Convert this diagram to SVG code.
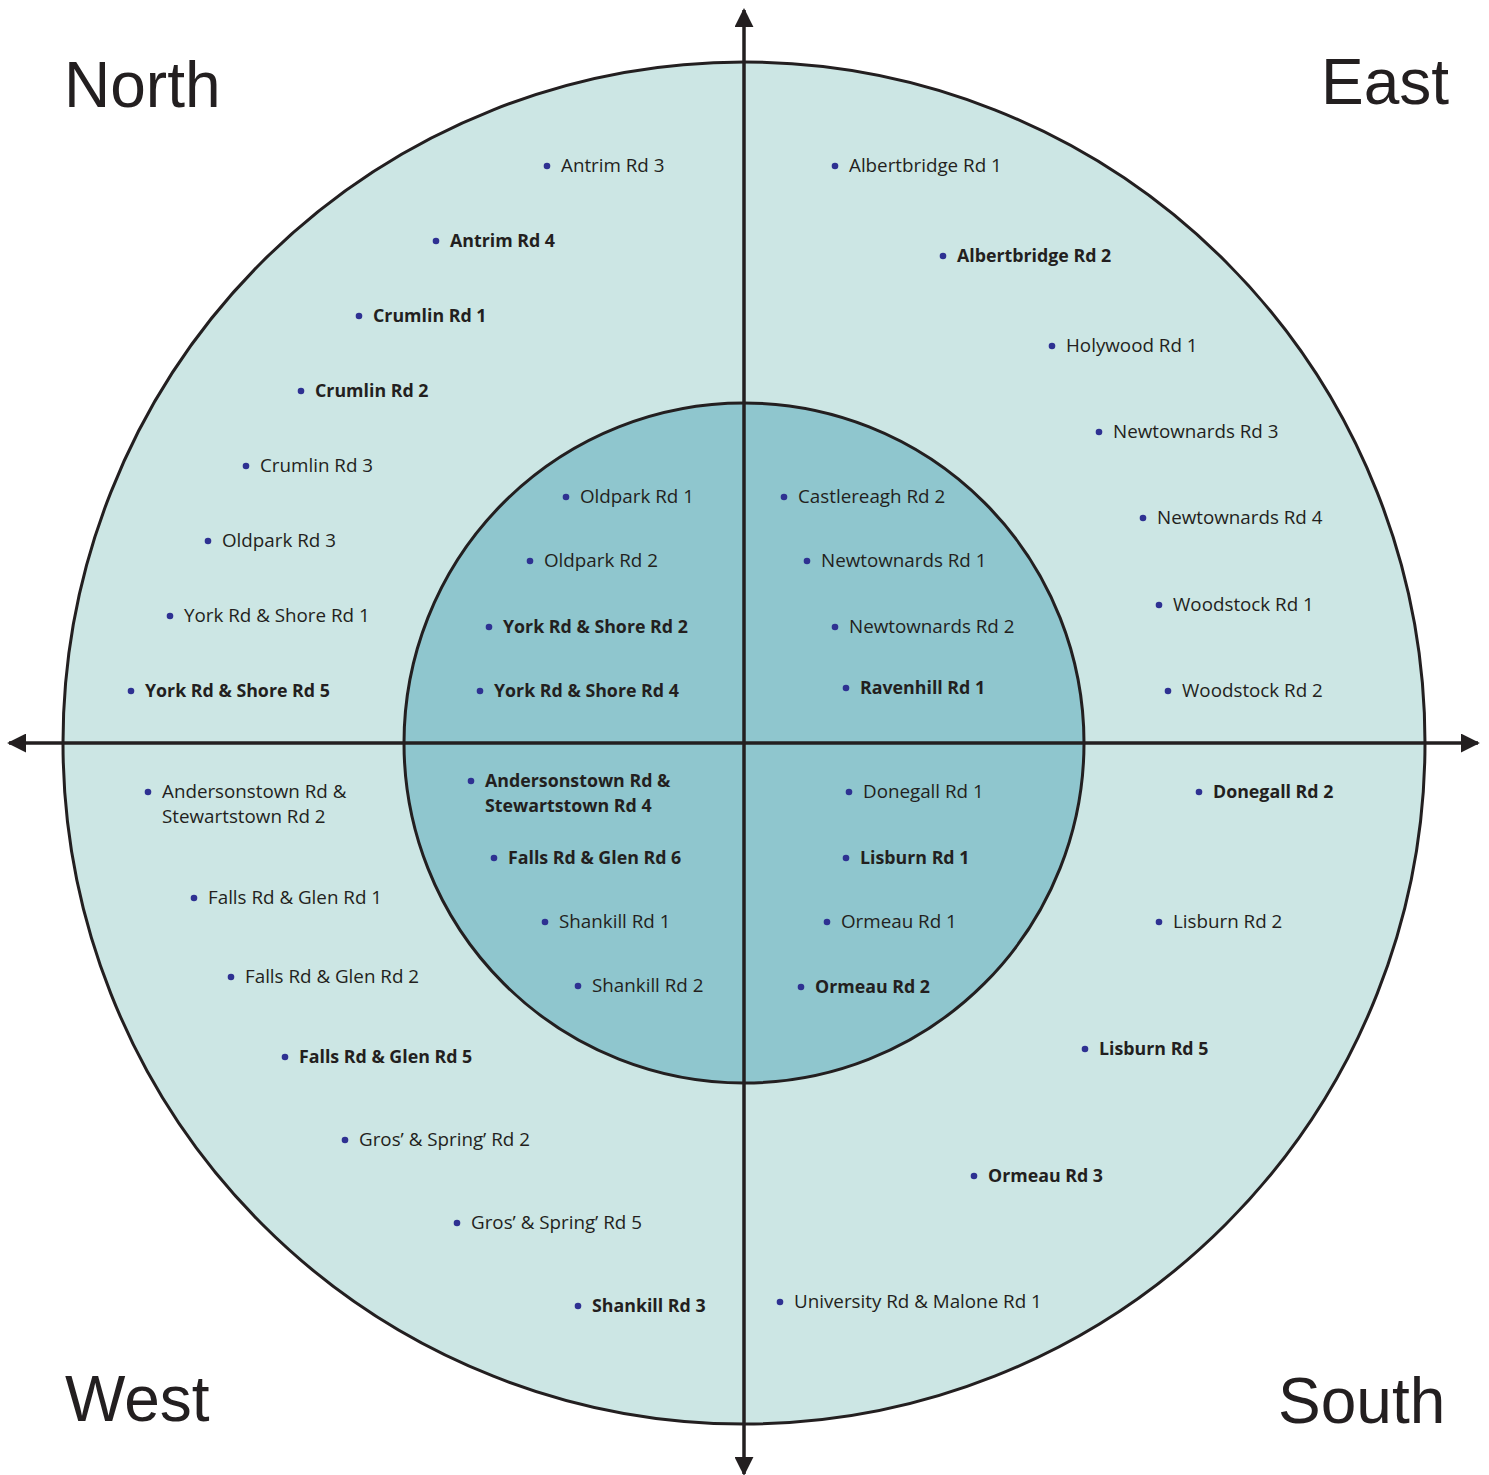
<svg xmlns="http://www.w3.org/2000/svg" width="1489" height="1475" viewBox="0 0 1489 1475">
<style>
.t{font-family:"Open Sans","Liberation Sans",sans-serif;font-size:18.8px;fill:#231f20}
.b{font-weight:bold;font-size:17.8px}
.d{fill:#2e3192}
.c{font-family:"Liberation Sans",Arial,sans-serif;font-size:64px;fill:#231f20}
.ax{stroke:#231f20;stroke-width:3.5;fill:none}
</style>
<defs>
<marker id="ah" viewBox="0 0 10 10" refX="9" refY="5" markerWidth="19" markerHeight="19" markerUnits="userSpaceOnUse" orient="auto"><path d="M0,0 L10,5 L0,10 z" fill="#231f20"/></marker>
</defs>
<g id="outer-circle"><circle cx="744" cy="743" r="681" fill="#cce6e4" stroke="#231f20" stroke-width="3"/></g>
<g id="inner-circle"><circle cx="744" cy="743" r="340" fill="#8fc6ce" stroke="#231f20" stroke-width="3"/></g>
<g id="connectors">
<line class="ax" x1="744" y1="743" x2="744" y2="10" marker-end="url(#ah)"/>
<line class="ax" x1="744" y1="743" x2="744" y2="1474" marker-end="url(#ah)"/>
<line class="ax" x1="744" y1="743" x2="9" y2="743" marker-end="url(#ah)"/>
<line class="ax" x1="744" y1="743" x2="1478" y2="743" marker-end="url(#ah)"/>
</g>
<g id="corner-labels">
<text class="c" x="64" y="107">North</text>
<text class="c" x="1321" y="104">East</text>
<text class="c" x="65" y="1421">West</text>
<text class="c" x="1278" y="1423">South</text>
</g>
<g id="north">
<g id="n1"><circle class="d" cx="547" cy="166" r="3.3"/><text class="t" x="561" y="172">Antrim Rd 3</text></g>
<g id="n2"><circle class="d" cx="436" cy="241" r="3.3"/><text class="t b" x="450" y="247">Antrim Rd 4</text></g>
<g id="n3"><circle class="d" cx="359" cy="316" r="3.3"/><text class="t b" x="373" y="322">Crumlin Rd 1</text></g>
<g id="n4"><circle class="d" cx="301" cy="391" r="3.3"/><text class="t b" x="315" y="397">Crumlin Rd 2</text></g>
<g id="n5"><circle class="d" cx="246" cy="466" r="3.3"/><text class="t" x="260" y="472">Crumlin Rd 3</text></g>
<g id="n6"><circle class="d" cx="208" cy="541" r="3.3"/><text class="t" x="222" y="547">Oldpark Rd 3</text></g>
<g id="n7"><circle class="d" cx="170" cy="616" r="3.3"/><text class="t" x="184" y="622">York Rd &amp; Shore Rd 1</text></g>
<g id="n8"><circle class="d" cx="131" cy="691" r="3.3"/><text class="t b" x="145" y="697">York Rd &amp; Shore Rd 5</text></g>
<g id="n9"><circle class="d" cx="566" cy="497" r="3.3"/><text class="t" x="580" y="503">Oldpark Rd 1</text></g>
<g id="n10"><circle class="d" cx="530" cy="561" r="3.3"/><text class="t" x="544" y="567">Oldpark Rd 2</text></g>
<g id="n11"><circle class="d" cx="489" cy="627" r="3.3"/><text class="t b" x="503" y="633">York Rd &amp; Shore Rd 2</text></g>
<g id="n12"><circle class="d" cx="480" cy="691" r="3.3"/><text class="t b" x="494" y="697">York Rd &amp; Shore Rd 4</text></g>
</g>
<g id="east">
<g id="e1"><circle class="d" cx="784" cy="497" r="3.3"/><text class="t" x="798" y="503">Castlereagh Rd 2</text></g>
<g id="e2"><circle class="d" cx="807" cy="561" r="3.3"/><text class="t" x="821" y="567">Newtownards Rd 1</text></g>
<g id="e3"><circle class="d" cx="835" cy="627" r="3.3"/><text class="t" x="849" y="633">Newtownards Rd 2</text></g>
<g id="e4"><circle class="d" cx="846" cy="688" r="3.3"/><text class="t b" x="860" y="694">Ravenhill Rd 1</text></g>
<g id="e5"><circle class="d" cx="835" cy="166" r="3.3"/><text class="t" x="849" y="172">Albertbridge Rd 1</text></g>
<g id="e6"><circle class="d" cx="943" cy="256" r="3.3"/><text class="t b" x="957" y="262">Albertbridge Rd 2</text></g>
<g id="e7"><circle class="d" cx="1052" cy="346" r="3.3"/><text class="t" x="1066" y="352">Holywood Rd 1</text></g>
<g id="e8"><circle class="d" cx="1099" cy="432" r="3.3"/><text class="t" x="1113" y="438">Newtownards Rd 3</text></g>
<g id="e9"><circle class="d" cx="1143" cy="518" r="3.3"/><text class="t" x="1157" y="524">Newtownards Rd 4</text></g>
<g id="e10"><circle class="d" cx="1159" cy="605" r="3.3"/><text class="t" x="1173" y="611">Woodstock Rd 1</text></g>
<g id="e11"><circle class="d" cx="1168" cy="691" r="3.3"/><text class="t" x="1182" y="697">Woodstock Rd 2</text></g>
</g>
<g id="west">
<g id="w1"><circle class="d" cx="148" cy="792" r="3.3"/><text class="t" x="162" y="798">Andersonstown Rd &amp;</text><text class="t" x="162" y="823">Stewartstown Rd 2</text></g>
<g id="w2"><circle class="d" cx="194" cy="898" r="3.3"/><text class="t" x="208" y="904">Falls Rd &amp; Glen Rd 1</text></g>
<g id="w3"><circle class="d" cx="231" cy="977" r="3.3"/><text class="t" x="245" y="983">Falls Rd &amp; Glen Rd 2</text></g>
<g id="w4"><circle class="d" cx="285" cy="1057" r="3.3"/><text class="t b" x="299" y="1063">Falls Rd &amp; Glen Rd 5</text></g>
<g id="w5"><circle class="d" cx="345" cy="1140" r="3.3"/><text class="t" x="359" y="1146">Gros’ &amp; Spring’ Rd 2</text></g>
<g id="w6"><circle class="d" cx="457" cy="1223" r="3.3"/><text class="t" x="471" y="1229">Gros’ &amp; Spring’ Rd 5</text></g>
<g id="w7"><circle class="d" cx="578" cy="1306" r="3.3"/><text class="t b" x="592" y="1312">Shankill Rd 3</text></g>
<g id="w8"><circle class="d" cx="471" cy="781" r="3.3"/><text class="t b" x="485" y="787">Andersonstown Rd &amp;</text><text class="t b" x="485" y="812">Stewartstown Rd 4</text></g>
<g id="w9"><circle class="d" cx="494" cy="858" r="3.3"/><text class="t b" x="508" y="864">Falls Rd &amp; Glen Rd 6</text></g>
<g id="w10"><circle class="d" cx="545" cy="922" r="3.3"/><text class="t" x="559" y="928">Shankill Rd 1</text></g>
<g id="w11"><circle class="d" cx="578" cy="986" r="3.3"/><text class="t" x="592" y="992">Shankill Rd 2</text></g>
</g>
<g id="south">
<g id="s1"><circle class="d" cx="849" cy="792" r="3.3"/><text class="t" x="863" y="798">Donegall Rd 1</text></g>
<g id="s2"><circle class="d" cx="846" cy="858" r="3.3"/><text class="t b" x="860" y="864">Lisburn Rd 1</text></g>
<g id="s3"><circle class="d" cx="827" cy="922" r="3.3"/><text class="t" x="841" y="928">Ormeau Rd 1</text></g>
<g id="s4"><circle class="d" cx="801" cy="987" r="3.3"/><text class="t b" x="815" y="993">Ormeau Rd 2</text></g>
<g id="s5"><circle class="d" cx="1199" cy="792" r="3.3"/><text class="t b" x="1213" y="798">Donegall Rd 2</text></g>
<g id="s6"><circle class="d" cx="1159" cy="922" r="3.3"/><text class="t" x="1173" y="928">Lisburn Rd 2</text></g>
<g id="s7"><circle class="d" cx="1085" cy="1049" r="3.3"/><text class="t b" x="1099" y="1055">Lisburn Rd 5</text></g>
<g id="s8"><circle class="d" cx="974" cy="1176" r="3.3"/><text class="t b" x="988" y="1182">Ormeau Rd 3</text></g>
<g id="s9"><circle class="d" cx="780" cy="1302" r="3.3"/><text class="t" x="794" y="1308">University Rd &amp; Malone Rd 1</text></g>
</g>
</svg>
